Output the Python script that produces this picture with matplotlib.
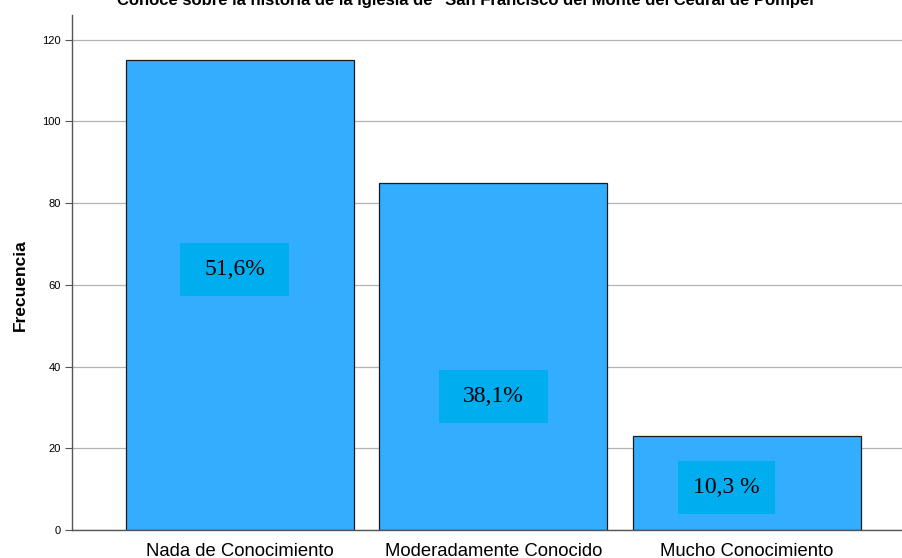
import matplotlib
matplotlib.use("Agg")
import matplotlib.pyplot as plt
from matplotlib.patches import Rectangle

# data
categories = ['Nada de Conocimiento', 'Moderadamente Conocido', 'Mucho Conocimiento']
freqs = [115, 85, 23]
pct_labels = ['51,6%', '38,1%', '10,3 %']
yticks = [0, 20, 40, 60, 80, 100, 120]
title = 'Conoce sobre la historia de la iglesia de "San Francisco del Monte del Cedral de Pompei'

bar_color = '#33adff'
box_color = '#00aeef'

fig = plt.figure(figsize=(9.02, 5.58), dpi=100)
ax = fig.add_axes([72 / 902, 28 / 558, 830 / 902, 515 / 558])

x = list(range(len(categories)))
ax.bar(x, freqs, width=0.9, color=bar_color, edgecolor='#1a1a1a', linewidth=0.9, zorder=2)

# percentage boxes (offset x, centre y, width in data units)
label_pos = [(-0.02, 63.7, 0.43), (0.0, 32.6, 0.43), (-0.08, 10.5, 0.385)]
bh = 13.0
for i, (dx, yc, bw) in enumerate(label_pos):
    ax.add_patch(Rectangle((x[i] + dx - bw / 2, yc - bh / 2), bw, bh,
                           facecolor=box_color, edgecolor='none', zorder=3))
    ax.text(x[i] + dx, yc, pct_labels[i], ha='center', va='center',
            family='Liberation Serif', fontsize=17, color='black', zorder=4)

ax.set_xlim(-0.663, 2.613)
ax.set_ylim(0, 126)
ax.set_yticks(yticks)
ax.set_yticklabels([str(t) for t in yticks], family='Liberation Sans', fontsize=8)
ax.set_xticks(x)
ax.set_xticklabels(categories, family='Liberation Sans', fontsize=13.3)
ax.tick_params(axis='x', length=0, pad=9)
ax.tick_params(axis='y', length=5, width=0.8, color='#555555', pad=3)

ax.yaxis.grid(True, color='#b3b3b3', linewidth=0.9, zorder=0)
ax.set_axisbelow(True)
for s in ['top', 'right']:
    ax.spines[s].set_visible(False)
ax.spines['left'].set_color('#555555')
ax.spines['bottom'].set_color('#555555')
ax.spines['left'].set_linewidth(1.0)
ax.spines['bottom'].set_linewidth(1.0)

ax.set_ylabel('Frecuencia', family='Liberation Sans', fontsize=12.5, fontweight='bold')
ax.yaxis.set_label_coords(-44 / 830, (530 - 285) / 515)

fig.text(465 / 902, 1.0, title, ha='center', va='center',
         family='Liberation Sans', fontsize=12, fontweight='bold')

fig.savefig('out.png', dpi=100)
